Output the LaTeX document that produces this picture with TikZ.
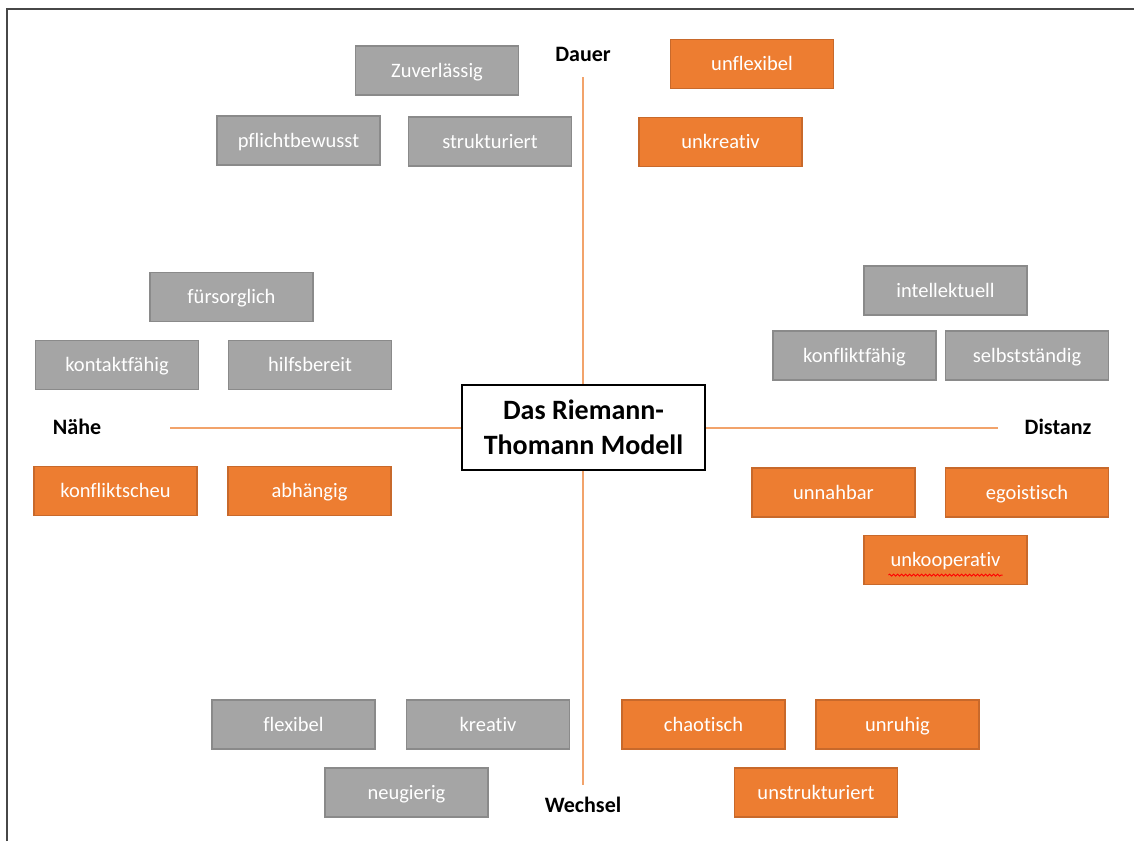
\documentclass[tikz,border=0pt]{standalone}
\usepackage{fontspec}
\setmainfont[Ligatures=NoCommon]{Carlito}
\usepackage{tikz}
\usetikzlibrary{decorations.pathmorphing}
\definecolor{RTGray}{HTML}{A5A5A5}
\definecolor{RTGrayLine}{HTML}{8A8A8A}
\definecolor{RTOrange}{HTML}{ED7D31}
\definecolor{RTOrangeLine}{HTML}{C8692B}
\definecolor{RTAxis}{HTML}{F2A36B}
\definecolor{RTFrame}{HTML}{474747}
\tikzset{
  trait/.style={draw=RTGrayLine,fill=RTGray,line width=1.2pt,text=white,
    minimum width=163pt,minimum height=49pt,inner sep=0pt,
    text height=18pt,text depth=5pt,
    font=\fontsize{20.5}{24}\selectfont},
  risk/.style={trait,draw=RTOrangeLine,fill=RTOrange},
  pole/.style={font=\fontsize{22}{26}\selectfont\bfseries,inner sep=0pt,
    text height=18pt,text depth=5pt},
}

\begin{document}
\begin{tikzpicture}[x=1pt,y=-1pt]
\path[use as bounding box] (0,0) rectangle (1134,841);
\draw[RTFrame,line width=2pt] (7,841) -- (7,9) -- (1134,9);
% axes
\coordinate (axtop) at (583,77);
\coordinate (axbot) at (583,785);
\coordinate (axleft) at (170,428);
\coordinate (axright) at (998,428);
\draw[RTAxis,line width=1.5pt] (axtop) -- (axbot);
\draw[RTAxis,line width=1.5pt] (axleft) -- (axright);
\node[draw=black,fill=white,line width=2pt,minimum width=243pt,minimum height=85pt,
  align=center,font=\fontsize{28}{35}\selectfont\bfseries] (model) at (583.5,427.5)
  {Das Riemann-\\Thomann Modell};
\node[pole] (dauer) at (583,55) {Dauer};
\node[pole] (wechsel) at (583,806) {Wechsel};
\node[pole] (naehe) at (77,428) {Nähe};
\node[pole] (distanz) at (1058,428) {Distanz};
% Dauer / Naehe
\node[trait] (zuverl) at (437,70.5) {Zuverlässig};
\node[trait] (pflicht) at (298.5,140.5) {pflichtbewusst};
\node[trait] (strukt) at (490,141.5) {strukturiert};
\node[trait] (fuers) at (231.5,297) {fürsorglich};
\node[trait] (kontakt) at (117,365) {kontaktfähig};
\node[trait] (hilfs) at (310,365) {hilfsbereit};
\node[trait] (intell) at (945.5,290.5) {intellektuell};
\node[trait] (konffa) at (854.5,355.5) {konfliktfähig};
\node[trait] (selbst) at (1027,355.5) {selbstständig};
\node[trait] (flex) at (293.5,724.5) {flexibel};
\node[trait] (kreativ) at (488,724.5) {kreativ};
\node[trait] (neugier) at (406.5,792.5) {neugierig};
% Schattenseiten
\node[risk] (unflex) at (752,64) {unflexibel};
\node[risk] (unkreativ) at (720.5,142) {unkreativ};
\node[risk] (konfsch) at (115.5,491) {konfliktscheu};
\node[risk] (abh) at (309.5,491) {abhängig};
\node[risk] (unnah) at (833.5,492.5) {unnahbar};
\node[risk] (ego) at (1027,492.5) {egoistisch};
\node[risk] (unkoop) at (945.5,560) {unkooperativ};
\node[risk] (chaot) at (703.5,724.5) {chaotisch};
\node[risk] (unruhig) at (897.5,724.5) {unruhig};
\node[risk] (unstrukt) at (816,792.5) {unstrukturiert};
\draw[red,line width=0.8pt,decorate,decoration={snake,amplitude=1pt,segment length=4pt}]
  ([xshift=25pt,yshift=10pt]unkoop.south west) -- ([xshift=-25pt,yshift=10pt]unkoop.south east);
\end{tikzpicture}
\end{document}
